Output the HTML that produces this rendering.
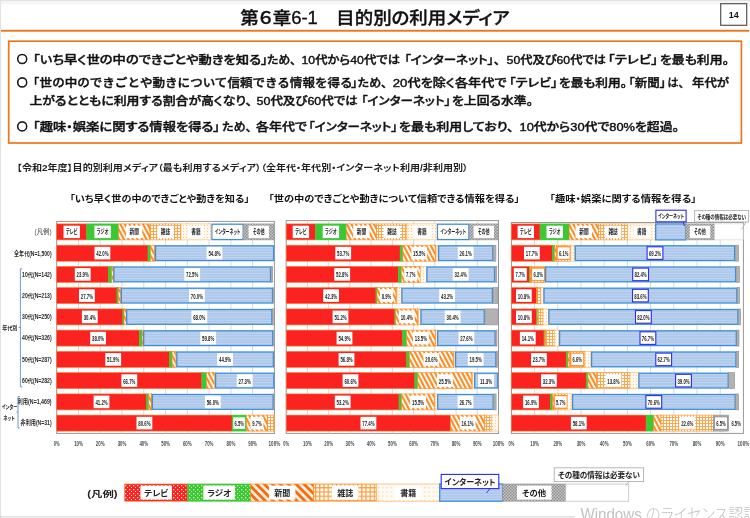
<!DOCTYPE html>
<html lang="ja"><head><meta charset="utf-8"><title>第6章6-1 目的別の利用メディア</title>
<style>
html,body{margin:0;padding:0;background:#fff;}
body{width:750px;height:518px;overflow:hidden;font-family:"Liberation Sans","Noto Sans CJK JP",sans-serif;}
svg{display:block;filter:blur(0.35px);}
text{font-family:"Liberation Sans","Noto Sans CJK JP",sans-serif;font-feature-settings:"palt" 1;font-kerning:normal;}
.np{font-feature-settings:"palt" 0;}
.c{font-family:"Noto Sans CJK JP",sans-serif;}
.b{font-weight:700}
.m{font-weight:500}
.sb{font-weight:500;stroke:#111;stroke-width:0.4px;paint-order:stroke;}
</style></head><body>
<svg width="750" height="518" viewBox="0 0 750 518">
<defs>
<pattern id="pPaper" width="4" height="4" patternUnits="userSpaceOnUse" patternTransform="rotate(-28)">
<rect width="4" height="4" fill="#fff"/><rect width="2.1" height="4" fill="#ff8a1f"/></pattern>
<pattern id="pMag" width="3" height="3" patternUnits="userSpaceOnUse">
<rect width="3" height="3" fill="#ffa03c"/><rect x="0.9" y="0.9" width="2.1" height="2.1" fill="#fff"/></pattern>
<pattern id="pBook" width="3" height="3" patternUnits="userSpaceOnUse">
<rect width="3" height="3" fill="#fff8ee"/><rect width="1" height="1" fill="#ffc98a"/></pattern>
<pattern id="pNet" width="3" height="2.6" patternUnits="userSpaceOnUse">
<rect width="3" height="2.6" fill="#adc8ea"/><rect width="3" height="0.8" fill="#c3d7f1"/></pattern>
<pattern id="pOther" width="3" height="3" patternUnits="userSpaceOnUse">
<rect width="3" height="3" fill="#c9c9c9"/><rect width="1.5" height="1.5" fill="#8c8c8c"/><rect x="1.5" y="1.5" width="1.5" height="1.5" fill="#8c8c8c"/></pattern>
<pattern id="pTVd" width="4" height="4" patternUnits="userSpaceOnUse">
<rect width="4" height="4" fill="#fb2320"/><rect x="1" y="1" width="1.3" height="1.3" fill="#ffd0c8"/><rect x="3" y="3" width="1.3" height="1.3" fill="#ffd0c8"/></pattern>
<pattern id="pRadd" width="4" height="4" patternUnits="userSpaceOnUse">
<rect width="4" height="4" fill="#3cc832"/><rect x="1" y="1" width="1.3" height="1.3" fill="#c8f0c0"/><rect x="3" y="3" width="1.3" height="1.3" fill="#c8f0c0"/></pattern>
<pattern id="pPaperL" width="5.6" height="5.6" patternUnits="userSpaceOnUse" patternTransform="rotate(-45)">
<rect width="5.6" height="5.6" fill="#fff3e6"/><rect width="2.9" height="5.6" fill="#f76b10"/></pattern>
<pattern id="pMagL" width="4.2" height="4.2" patternUnits="userSpaceOnUse">
<rect width="4.2" height="4.2" fill="#ff9a33"/><rect x="1.2" y="1.2" width="3" height="3" fill="#fff"/></pattern>
<pattern id="pBookL" width="4.2" height="4.2" patternUnits="userSpaceOnUse">
<rect width="4.2" height="4.2" fill="#fffaf3"/><rect width="1.3" height="1.3" fill="#ffd3a3"/></pattern>
</defs>
<rect width="750" height="518" fill="#fff"/>

<rect x="0" y="0" width="750" height="1.2" fill="#e2e2e2"/><rect x="0" y="1.2" width="750" height="3.2" fill="#f4f4f4"/>
<rect x="0" y="0" width="1.1" height="518" fill="#e2e2e2"/>
<rect x="0" y="516.3" width="575" height="1" fill="#d0d0d0"/>
<text x="240.3" y="23.6" font-size="17.6" class="m" stroke="#111" stroke-width="0.35" textLength="269.4" lengthAdjust="spacingAndGlyphs" fill="#111">第６章6-1　目的別の利用メディア</text>
<rect x="720.7" y="3.7" width="26" height="21.6" fill="#fff" stroke="#555" stroke-width="1.2"/>
<text x="733.7" y="18" font-size="9" class="b" text-anchor="middle" fill="#111">14</text>
<rect x="1" y="29.8" width="748" height="1.9" fill="#ea7719"/>
<rect x="8.7" y="41.2" width="732.7" height="101.8" fill="#fff" stroke="#ea7719" stroke-width="1.7"/>
<circle cx="22.2" cy="59.0" r="4.5" fill="none" stroke="#1a1a1a" stroke-width="1.5"/>
<text x="16.9" y="62.9" font-size="10.6" class="b c" fill="#1a1a1a">○</text>
<text x="33.0" y="63.6" font-size="11.4" class="sb" textLength="234.7" lengthAdjust="spacingAndGlyphs" fill="#111">「いち早く世の中のできごとや動きを知る」</text>
<text x="267.2" y="63.6" font-size="11.4" class="sb" textLength="28.8" lengthAdjust="spacingAndGlyphs" fill="#111">ため、</text>
<text x="301.5" y="63.6" font-size="11.4" class="sb" textLength="98.5" lengthAdjust="spacingAndGlyphs" fill="#111">10代から40代では</text>
<text x="404.5" y="63.6" font-size="11.4" class="sb" textLength="95.5" lengthAdjust="spacingAndGlyphs" fill="#111">「インターネット」、</text>
<text x="506.6" y="63.6" font-size="11.4" class="sb" textLength="99.4" lengthAdjust="spacingAndGlyphs" fill="#111">50代及び60代では</text>
<text x="607.8" y="63.6" font-size="11.4" class="sb" textLength="50.2" lengthAdjust="spacingAndGlyphs" fill="#111">「テレビ」</text>
<text x="660.0" y="63.6" font-size="11.4" class="sb" textLength="69.0" lengthAdjust="spacingAndGlyphs" fill="#111">を最も利用。</text>
<circle cx="22.2" cy="82.5" r="4.5" fill="none" stroke="#1a1a1a" stroke-width="1.5"/>
<text x="16.9" y="86.4" font-size="10.6" class="b c" fill="#1a1a1a">○</text>
<text x="33.0" y="87.1" font-size="11.4" class="sb" textLength="6.0" lengthAdjust="spacingAndGlyphs" fill="#111">「</text>
<text x="39.6" y="87.1" font-size="11.4" class="sb np" textLength="313.0" lengthAdjust="spacingAndGlyphs" fill="#111">世の中のできごとや動きについて信頼できる情報を得る</text>
<text x="351.2" y="87.1" font-size="11.4" class="sb" textLength="6.2" lengthAdjust="spacingAndGlyphs" fill="#111">」</text>
<text x="357.6" y="87.1" font-size="11.4" class="sb" textLength="29.4" lengthAdjust="spacingAndGlyphs" fill="#111">ため、</text>
<text x="392.8" y="87.1" font-size="11.4" class="sb" textLength="113.7" lengthAdjust="spacingAndGlyphs" fill="#111">20代を除く各年代で</text>
<text x="509.0" y="87.1" font-size="11.4" class="sb" textLength="48.6" lengthAdjust="spacingAndGlyphs" fill="#111">「テレビ」</text>
<text x="559.0" y="87.1" font-size="11.4" class="sb" textLength="68.0" lengthAdjust="spacingAndGlyphs" fill="#111">を最も利用。</text>
<text x="628.6" y="87.1" font-size="11.4" class="sb" textLength="37.4" lengthAdjust="spacingAndGlyphs" fill="#111">「新聞」</text>
<text x="667.5" y="87.1" font-size="11.4" class="sb" textLength="16.5" lengthAdjust="spacingAndGlyphs" fill="#111">は、</text>
<text x="692.0" y="87.1" font-size="11.4" class="sb" textLength="37.0" lengthAdjust="spacingAndGlyphs" fill="#111">年代が</text>
<text x="29.5" y="105.4" font-size="11.4" class="sb" textLength="222.5" lengthAdjust="spacingAndGlyphs" fill="#111">上がるとともに利用する割合が高くなり、</text>
<text x="256.5" y="105.4" font-size="11.4" class="sb" textLength="101.3" lengthAdjust="spacingAndGlyphs" fill="#111">50代及び60代では</text>
<text x="361.3" y="105.4" font-size="11.4" class="sb" textLength="89.4" lengthAdjust="spacingAndGlyphs" fill="#111">「インターネット」</text>
<text x="452.0" y="105.4" font-size="11.4" class="sb" textLength="81.0" lengthAdjust="spacingAndGlyphs" fill="#111">を上回る水準。</text>
<circle cx="22.2" cy="126.4" r="4.5" fill="none" stroke="#1a1a1a" stroke-width="1.5"/>
<text x="16.9" y="130.3" font-size="10.6" class="b c" fill="#1a1a1a">○</text>
<text x="33.0" y="131.0" font-size="11.4" class="sb" textLength="187.0" lengthAdjust="spacingAndGlyphs" fill="#111">「趣味・娯楽に関する情報を得る」</text>
<text x="222.2" y="131.0" font-size="11.4" class="sb" textLength="29.3" lengthAdjust="spacingAndGlyphs" fill="#111">ため、</text>
<text x="256.0" y="131.0" font-size="11.4" class="sb" textLength="51.0" lengthAdjust="spacingAndGlyphs" fill="#111">各年代で</text>
<text x="308.5" y="131.0" font-size="11.4" class="sb" textLength="89.0" lengthAdjust="spacingAndGlyphs" fill="#111">「インターネット」</text>
<text x="399.0" y="131.0" font-size="11.4" class="sb" textLength="114.5" lengthAdjust="spacingAndGlyphs" fill="#111">を最も利用しており、</text>
<text x="519.5" y="131.0" font-size="11.4" class="sb" textLength="159.5" lengthAdjust="spacingAndGlyphs" fill="#111">10代から30代で80%を超過。</text>
<text x="16.9" y="170.6" font-size="8.8" class="b" textLength="451.1" lengthAdjust="spacingAndGlyphs" fill="#222">【令和2年度】目的別利用メディア（最も利用するメディア）（全年代・年代別・インターネット利用/非利用別）</text>
<text x="69.8" y="201.9" font-size="9.4" class="b" textLength="179.6" lengthAdjust="spacingAndGlyphs" fill="#111">「いち早く世の中のできごとや動きを知る」</text>
<text x="268.6" y="201.9" font-size="9.4" class="b" textLength="251.0" lengthAdjust="spacingAndGlyphs" fill="#111">「世の中のできごとや動きについて信頼できる情報を得る」</text>
<text x="549.8" y="201.9" font-size="9.4" class="b" textLength="146.6" lengthAdjust="spacingAndGlyphs" fill="#111">「趣味・娯楽に関する情報を得る」</text>
<rect x="56.7" y="221.4" width="217.7" height="212.0" fill="#fff" stroke="#969696" stroke-width="1"/>
<line x1="78.5" y1="221.4" x2="78.5" y2="433.4" stroke="#d4d4d4" stroke-width="0.9"/>
<line x1="100.2" y1="221.4" x2="100.2" y2="433.4" stroke="#d4d4d4" stroke-width="0.9"/>
<line x1="122.0" y1="221.4" x2="122.0" y2="433.4" stroke="#d4d4d4" stroke-width="0.9"/>
<line x1="143.8" y1="221.4" x2="143.8" y2="433.4" stroke="#d4d4d4" stroke-width="0.9"/>
<line x1="165.6" y1="221.4" x2="165.6" y2="433.4" stroke="#d4d4d4" stroke-width="0.9"/>
<line x1="187.3" y1="221.4" x2="187.3" y2="433.4" stroke="#d4d4d4" stroke-width="0.9"/>
<line x1="209.1" y1="221.4" x2="209.1" y2="433.4" stroke="#d4d4d4" stroke-width="0.9"/>
<line x1="230.9" y1="221.4" x2="230.9" y2="433.4" stroke="#d4d4d4" stroke-width="0.9"/>
<line x1="252.6" y1="221.4" x2="252.6" y2="433.4" stroke="#d4d4d4" stroke-width="0.9"/>
<rect x="56.7" y="223.9" width="30.0" height="16.0" fill="#fb2320" stroke="#ff7a2a" stroke-width="0.6"/>
<rect x="63.5" y="225.7" width="16.4" height="12.4" fill="#fff"/>
<text x="71.7" y="234.3" font-size="6.6" class="b" text-anchor="middle" fill="#222" textLength="11.6" lengthAdjust="spacingAndGlyphs">テレビ</text>
<rect x="86.7" y="223.9" width="31.8" height="16.0" fill="#3cc832" stroke="#3cc832" stroke-width="0.6"/>
<rect x="94.4" y="225.7" width="16.4" height="12.4" fill="#fff"/>
<text x="102.6" y="234.3" font-size="6.6" class="b" text-anchor="middle" fill="#222" textLength="11.6" lengthAdjust="spacingAndGlyphs">ラジオ</text>
<rect x="118.5" y="223.9" width="31.5" height="16.0" fill="url(#pPaper)" stroke="#ff8a1f" stroke-width="0.6"/>
<rect x="126.0" y="225.7" width="16.4" height="12.4" fill="#fff"/>
<text x="134.2" y="234.3" font-size="6.6" class="b" text-anchor="middle" fill="#222" textLength="9.4" lengthAdjust="spacingAndGlyphs">新聞</text>
<rect x="150.0" y="223.9" width="31.0" height="16.0" fill="url(#pMag)" stroke="#ff8a1f" stroke-width="0.6"/>
<rect x="157.3" y="225.7" width="16.4" height="12.4" fill="#fff"/>
<text x="165.5" y="234.3" font-size="6.6" class="b" text-anchor="middle" fill="#222" textLength="9.4" lengthAdjust="spacingAndGlyphs">雑誌</text>
<rect x="181.0" y="223.9" width="30.0" height="16.0" fill="url(#pBook)" stroke="#ffb566" stroke-width="0.6"/>
<rect x="187.8" y="225.7" width="16.4" height="12.4" fill="#fff"/>
<text x="196.0" y="234.3" font-size="6.6" class="b" text-anchor="middle" fill="#222" textLength="9.4" lengthAdjust="spacingAndGlyphs">書籍</text>
<rect x="212.0" y="224.2" width="31.0" height="15.4" fill="#fff" stroke="#3f8fd8" stroke-width="1.3"/>
<rect x="212.7" y="225.7" width="29.6" height="12.4" fill="#fff"/>
<text x="227.5" y="234.3" font-size="6.6" class="b" text-anchor="middle" fill="#222" textLength="25.5" lengthAdjust="spacingAndGlyphs">インターネット</text>
<rect x="243.6" y="223.9" width="30.4" height="16.0" fill="url(#pOther)" stroke="#999" stroke-width="0.6"/>
<rect x="248.6" y="225.7" width="20.4" height="12.4" fill="#fff"/>
<text x="258.8" y="234.3" font-size="6.6" class="b" text-anchor="middle" fill="#222" textLength="11.6" lengthAdjust="spacingAndGlyphs">その他</text>
<rect x="56.7" y="245.2" width="91.4" height="16.0" fill="#fb2320" stroke="#ff7a2a" stroke-width="0.6"/>
<rect x="94.5" y="246.8" width="15.8" height="12.6" fill="#fff"/>
<text x="102.4" y="256.0" font-size="8" class="b" text-anchor="middle" fill="#222" textLength="12.2" lengthAdjust="spacingAndGlyphs">42.0%</text>
<rect x="148.1" y="245.2" width="2.4" height="16.0" fill="#3cc832" stroke="#3cc832" stroke-width="0.6"/>
<rect x="150.5" y="245.2" width="4.1" height="16.0" fill="url(#pPaper)" stroke="#ff8a1f" stroke-width="0.6"/>
<rect x="154.7" y="245.2" width="0.2" height="16.0" fill="url(#pMag)" stroke="#ff8a1f" stroke-width="0.6"/>
<rect x="155.5" y="245.8" width="118.1" height="14.8" fill="url(#pNet)" stroke="#3f8fd8" stroke-width="1.3"/>
<rect x="206.6" y="246.8" width="15.8" height="12.6" fill="#fff"/>
<text x="214.5" y="256.0" font-size="8" class="b" text-anchor="middle" fill="#222" textLength="12.2" lengthAdjust="spacingAndGlyphs">54.8%</text>
<rect x="56.7" y="266.4" width="52.0" height="16.0" fill="#fb2320" stroke="#ff7a2a" stroke-width="0.6"/>
<rect x="74.8" y="268.1" width="15.8" height="12.6" fill="#fff"/>
<text x="82.7" y="277.3" font-size="8" class="b" text-anchor="middle" fill="#222" textLength="12.2" lengthAdjust="spacingAndGlyphs">23.9%</text>
<rect x="108.7" y="266.4" width="3.0" height="16.0" fill="#3cc832" stroke="#3cc832" stroke-width="0.6"/>
<rect x="111.8" y="266.4" width="1.5" height="16.0" fill="url(#pPaper)" stroke="#ff8a1f" stroke-width="0.6"/>
<rect x="113.9" y="267.0" width="156.6" height="14.8" fill="url(#pNet)" stroke="#3f8fd8" stroke-width="1.3"/>
<rect x="184.3" y="268.1" width="15.8" height="12.6" fill="#fff"/>
<text x="192.2" y="277.3" font-size="8" class="b" text-anchor="middle" fill="#222" textLength="12.2" lengthAdjust="spacingAndGlyphs">72.5%</text>
<rect x="271.1" y="266.4" width="1.5" height="16.0" fill="#b2b2b2" stroke="#8e8e8e" stroke-width="0.6"/>
<rect x="56.7" y="287.6" width="60.3" height="16.0" fill="#fb2320" stroke="#ff7a2a" stroke-width="0.6"/>
<rect x="79.0" y="289.3" width="15.8" height="12.6" fill="#fff"/>
<text x="86.9" y="298.5" font-size="8" class="b" text-anchor="middle" fill="#222" textLength="12.2" lengthAdjust="spacingAndGlyphs">27.7%</text>
<rect x="117.0" y="287.6" width="1.3" height="16.0" fill="#3cc832" stroke="#3cc832" stroke-width="0.6"/>
<rect x="118.3" y="287.6" width="2.4" height="16.0" fill="url(#pPaper)" stroke="#ff8a1f" stroke-width="0.6"/>
<rect x="121.3" y="288.2" width="151.2" height="14.8" fill="url(#pNet)" stroke="#3f8fd8" stroke-width="1.3"/>
<rect x="189.0" y="289.3" width="15.8" height="12.6" fill="#fff"/>
<text x="196.9" y="298.5" font-size="8" class="b" text-anchor="middle" fill="#222" textLength="12.2" lengthAdjust="spacingAndGlyphs">70.0%</text>
<rect x="273.1" y="287.6" width="0.4" height="16.0" fill="#b2b2b2" stroke="#8e8e8e" stroke-width="0.6"/>
<rect x="56.7" y="308.9" width="66.2" height="16.0" fill="#fb2320" stroke="#ff7a2a" stroke-width="0.6"/>
<rect x="81.9" y="310.6" width="15.8" height="12.6" fill="#fff"/>
<text x="89.8" y="319.8" font-size="8" class="b" text-anchor="middle" fill="#222" textLength="12.2" lengthAdjust="spacingAndGlyphs">30.4%</text>
<rect x="122.9" y="308.9" width="1.1" height="16.0" fill="#3cc832" stroke="#3cc832" stroke-width="0.6"/>
<rect x="124.0" y="308.9" width="2.2" height="16.0" fill="url(#pPaper)" stroke="#ff8a1f" stroke-width="0.6"/>
<rect x="126.7" y="309.5" width="145.1" height="14.8" fill="url(#pNet)" stroke="#3f8fd8" stroke-width="1.3"/>
<rect x="191.4" y="310.6" width="15.8" height="12.6" fill="#fff"/>
<text x="199.3" y="319.8" font-size="8" class="b" text-anchor="middle" fill="#222" textLength="12.2" lengthAdjust="spacingAndGlyphs">68.0%</text>
<rect x="272.4" y="308.9" width="2.0" height="16.0" fill="#b2b2b2" stroke="#8e8e8e" stroke-width="0.6"/>
<rect x="56.7" y="330.1" width="82.7" height="16.0" fill="#fb2320" stroke="#ff7a2a" stroke-width="0.6"/>
<rect x="90.2" y="331.8" width="15.8" height="12.6" fill="#fff"/>
<text x="98.1" y="341.0" font-size="8" class="b" text-anchor="middle" fill="#222" textLength="12.2" lengthAdjust="spacingAndGlyphs">38.0%</text>
<rect x="139.4" y="330.1" width="2.6" height="16.0" fill="#3cc832" stroke="#3cc832" stroke-width="0.6"/>
<rect x="142.0" y="330.1" width="1.1" height="16.0" fill="url(#pPaper)" stroke="#ff8a1f" stroke-width="0.6"/>
<rect x="143.7" y="330.8" width="129.0" height="14.8" fill="url(#pNet)" stroke="#3f8fd8" stroke-width="1.3"/>
<rect x="200.3" y="331.8" width="15.8" height="12.6" fill="#fff"/>
<text x="208.2" y="341.0" font-size="8" class="b" text-anchor="middle" fill="#222" textLength="12.2" lengthAdjust="spacingAndGlyphs">59.8%</text>
<rect x="273.3" y="330.1" width="0.4" height="16.0" fill="#b2b2b2" stroke="#8e8e8e" stroke-width="0.6"/>
<rect x="56.7" y="351.4" width="113.0" height="16.0" fill="#fb2320" stroke="#ff7a2a" stroke-width="0.6"/>
<rect x="105.3" y="353.1" width="15.8" height="12.6" fill="#fff"/>
<text x="113.2" y="362.3" font-size="8" class="b" text-anchor="middle" fill="#222" textLength="12.2" lengthAdjust="spacingAndGlyphs">51.9%</text>
<rect x="169.7" y="351.4" width="2.4" height="16.0" fill="#3cc832" stroke="#3cc832" stroke-width="0.6"/>
<rect x="172.1" y="351.4" width="3.9" height="16.0" fill="url(#pPaper)" stroke="#ff8a1f" stroke-width="0.6"/>
<rect x="176.0" y="351.4" width="0.2" height="16.0" fill="url(#pBook)" stroke="#ffb566" stroke-width="0.6"/>
<rect x="176.8" y="352.0" width="96.5" height="14.8" fill="url(#pNet)" stroke="#3f8fd8" stroke-width="1.3"/>
<rect x="217.2" y="353.1" width="15.8" height="12.6" fill="#fff"/>
<text x="225.1" y="362.3" font-size="8" class="b" text-anchor="middle" fill="#222" textLength="12.2" lengthAdjust="spacingAndGlyphs">44.9%</text>
<rect x="274.0" y="351.4" width="0.2" height="16.0" fill="#b2b2b2" stroke="#8e8e8e" stroke-width="0.6"/>
<rect x="56.7" y="372.6" width="145.2" height="16.0" fill="#fb2320" stroke="#ff7a2a" stroke-width="0.6"/>
<rect x="121.4" y="374.3" width="15.8" height="12.6" fill="#fff"/>
<text x="129.3" y="383.5" font-size="8" class="b" text-anchor="middle" fill="#222" textLength="12.2" lengthAdjust="spacingAndGlyphs">66.7%</text>
<rect x="201.9" y="372.6" width="4.6" height="16.0" fill="#3cc832" stroke="#3cc832" stroke-width="0.6"/>
<rect x="206.5" y="372.6" width="8.3" height="16.0" fill="url(#pPaper)" stroke="#ff8a1f" stroke-width="0.6"/>
<rect x="214.8" y="372.6" width="0.2" height="16.0" fill="url(#pBook)" stroke="#ffb566" stroke-width="0.6"/>
<rect x="215.6" y="373.2" width="58.2" height="14.8" fill="url(#pNet)" stroke="#3f8fd8" stroke-width="1.3"/>
<rect x="236.8" y="374.3" width="15.8" height="12.6" fill="#fff"/>
<text x="244.7" y="383.5" font-size="8" class="b" text-anchor="middle" fill="#222" textLength="12.2" lengthAdjust="spacingAndGlyphs">27.3%</text>
<rect x="56.7" y="393.9" width="89.7" height="16.0" fill="#fb2320" stroke="#ff7a2a" stroke-width="0.6"/>
<rect x="93.6" y="395.6" width="15.8" height="12.6" fill="#fff"/>
<text x="101.5" y="404.8" font-size="8" class="b" text-anchor="middle" fill="#222" textLength="12.2" lengthAdjust="spacingAndGlyphs">41.2%</text>
<rect x="146.4" y="393.9" width="2.2" height="16.0" fill="#3cc832" stroke="#3cc832" stroke-width="0.6"/>
<rect x="148.6" y="393.9" width="3.0" height="16.0" fill="url(#pPaper)" stroke="#ff8a1f" stroke-width="0.6"/>
<rect x="151.6" y="393.9" width="0.2" height="16.0" fill="url(#pMag)" stroke="#ff8a1f" stroke-width="0.6"/>
<rect x="152.4" y="394.5" width="120.7" height="14.8" fill="url(#pNet)" stroke="#3f8fd8" stroke-width="1.3"/>
<rect x="204.9" y="395.6" width="15.8" height="12.6" fill="#fff"/>
<text x="212.8" y="404.8" font-size="8" class="b" text-anchor="middle" fill="#222" textLength="12.2" lengthAdjust="spacingAndGlyphs">56.0%</text>
<rect x="273.7" y="393.9" width="0.2" height="16.0" fill="#b2b2b2" stroke="#8e8e8e" stroke-width="0.6"/>
<rect x="56.7" y="415.1" width="175.5" height="16.0" fill="#fb2320" stroke="#ff7a2a" stroke-width="0.6"/>
<rect x="136.5" y="416.8" width="15.8" height="12.6" fill="#fff"/>
<text x="144.4" y="426.0" font-size="8" class="b" text-anchor="middle" fill="#222" textLength="12.2" lengthAdjust="spacingAndGlyphs">80.6%</text>
<rect x="232.2" y="415.1" width="14.2" height="16.0" fill="#3cc832" stroke="#3cc832" stroke-width="0.6"/>
<rect x="232.7" y="416.8" width="13.0" height="12.6" fill="#fff" stroke="#3cc832" stroke-width="1.1"/>
<text x="239.2" y="426.0" font-size="8" class="b" text-anchor="middle" fill="#222" textLength="9.4" lengthAdjust="spacingAndGlyphs">6.5%</text>
<rect x="246.3" y="415.1" width="21.1" height="16.0" fill="url(#pPaper)" stroke="#ff8a1f" stroke-width="0.6"/>
<rect x="250.4" y="416.8" width="13.0" height="12.6" fill="#fff"/>
<text x="256.9" y="426.0" font-size="8" class="b" text-anchor="middle" fill="#222" textLength="9.4" lengthAdjust="spacingAndGlyphs">9.7%</text>
<rect x="267.4" y="415.1" width="7.0" height="16.0" fill="url(#pMag)" stroke="#ff8a1f" stroke-width="0.6"/>
<text x="56.7" y="445.6" font-size="7.2" class="b" text-anchor="middle" fill="#4a4a4a" textLength="5.8" lengthAdjust="spacingAndGlyphs">0%</text>
<text x="78.5" y="445.6" font-size="7.2" class="b" text-anchor="middle" fill="#4a4a4a" textLength="8.7" lengthAdjust="spacingAndGlyphs">10%</text>
<text x="100.2" y="445.6" font-size="7.2" class="b" text-anchor="middle" fill="#4a4a4a" textLength="8.7" lengthAdjust="spacingAndGlyphs">20%</text>
<text x="122.0" y="445.6" font-size="7.2" class="b" text-anchor="middle" fill="#4a4a4a" textLength="8.7" lengthAdjust="spacingAndGlyphs">30%</text>
<text x="143.8" y="445.6" font-size="7.2" class="b" text-anchor="middle" fill="#4a4a4a" textLength="8.7" lengthAdjust="spacingAndGlyphs">40%</text>
<text x="165.6" y="445.6" font-size="7.2" class="b" text-anchor="middle" fill="#4a4a4a" textLength="8.7" lengthAdjust="spacingAndGlyphs">50%</text>
<text x="187.3" y="445.6" font-size="7.2" class="b" text-anchor="middle" fill="#4a4a4a" textLength="8.7" lengthAdjust="spacingAndGlyphs">60%</text>
<text x="209.1" y="445.6" font-size="7.2" class="b" text-anchor="middle" fill="#4a4a4a" textLength="8.7" lengthAdjust="spacingAndGlyphs">70%</text>
<text x="230.9" y="445.6" font-size="7.2" class="b" text-anchor="middle" fill="#4a4a4a" textLength="8.7" lengthAdjust="spacingAndGlyphs">80%</text>
<text x="252.6" y="445.6" font-size="7.2" class="b" text-anchor="middle" fill="#4a4a4a" textLength="8.7" lengthAdjust="spacingAndGlyphs">90%</text>
<text x="274.4" y="445.6" font-size="7.2" class="b" text-anchor="middle" fill="#4a4a4a" textLength="11.6" lengthAdjust="spacingAndGlyphs">100%</text>
<text x="34.6" y="234.2" font-size="6.4" class="m" fill="#555" textLength="17" lengthAdjust="spacingAndGlyphs">(凡例)</text>
<text x="14.1" y="255.5" font-size="6.4" class="b" fill="#2a2a2a" textLength="37.5" lengthAdjust="spacingAndGlyphs">全年代(N=1,500)</text>
<text x="22.1" y="276.7" font-size="6.4" class="b" fill="#2a2a2a" textLength="29.5" lengthAdjust="spacingAndGlyphs">10代(N=142)</text>
<text x="22.1" y="297.9" font-size="6.4" class="b" fill="#2a2a2a" textLength="29.5" lengthAdjust="spacingAndGlyphs">20代(N=213)</text>
<text x="22.1" y="319.2" font-size="6.4" class="b" fill="#2a2a2a" textLength="29.5" lengthAdjust="spacingAndGlyphs">30代(N=250)</text>
<text x="22.1" y="340.4" font-size="6.4" class="b" fill="#2a2a2a" textLength="29.5" lengthAdjust="spacingAndGlyphs">40代(N=326)</text>
<text x="22.1" y="361.7" font-size="6.4" class="b" fill="#2a2a2a" textLength="29.5" lengthAdjust="spacingAndGlyphs">50代(N=287)</text>
<text x="22.1" y="382.9" font-size="6.4" class="b" fill="#2a2a2a" textLength="29.5" lengthAdjust="spacingAndGlyphs">60代(N=282)</text>
<text x="17.6" y="404.2" font-size="6.4" class="b" fill="#2a2a2a" textLength="34" lengthAdjust="spacingAndGlyphs">利用(N=1,469)</text>
<text x="20.6" y="425.4" font-size="6.4" class="b" fill="#2a2a2a" textLength="31" lengthAdjust="spacingAndGlyphs">非利用(N=31)</text>
<path d="M22.3 268.8 H20.4 V386.8 H22.3 M20.4 327.5 H18.6" fill="none" stroke="#4f81c7" stroke-width="0.8"/>
<text x="2.2" y="330.2" font-size="5.8" class="b" fill="#222" textLength="15" lengthAdjust="spacingAndGlyphs">年代別</text>
<path d="M19.8 396.5 H18 V428 H19.8 M18 412 H16.4" fill="none" stroke="#4f81c7" stroke-width="0.8"/>
<text x="1.8" y="409.4" font-size="5.8" class="b" fill="#222" textLength="15.5" lengthAdjust="spacingAndGlyphs">インター</text>
<text x="3.4" y="420.4" font-size="5.8" class="b" fill="#222" textLength="11.5" lengthAdjust="spacingAndGlyphs">ネット</text>
<rect x="286.2" y="220.6" width="212.3" height="212.8" fill="#fff" stroke="#969696" stroke-width="1"/>
<line x1="307.4" y1="220.6" x2="307.4" y2="433.4" stroke="#d4d4d4" stroke-width="0.9"/>
<line x1="328.7" y1="220.6" x2="328.7" y2="433.4" stroke="#d4d4d4" stroke-width="0.9"/>
<line x1="349.9" y1="220.6" x2="349.9" y2="433.4" stroke="#d4d4d4" stroke-width="0.9"/>
<line x1="371.1" y1="220.6" x2="371.1" y2="433.4" stroke="#d4d4d4" stroke-width="0.9"/>
<line x1="392.4" y1="220.6" x2="392.4" y2="433.4" stroke="#d4d4d4" stroke-width="0.9"/>
<line x1="413.6" y1="220.6" x2="413.6" y2="433.4" stroke="#d4d4d4" stroke-width="0.9"/>
<line x1="434.8" y1="220.6" x2="434.8" y2="433.4" stroke="#d4d4d4" stroke-width="0.9"/>
<line x1="456.0" y1="220.6" x2="456.0" y2="433.4" stroke="#d4d4d4" stroke-width="0.9"/>
<line x1="477.3" y1="220.6" x2="477.3" y2="433.4" stroke="#d4d4d4" stroke-width="0.9"/>
<rect x="286.2" y="223.9" width="29.4" height="16.0" fill="#fb2320" stroke="#ff7a2a" stroke-width="0.6"/>
<rect x="292.7" y="225.7" width="16.4" height="12.4" fill="#fff"/>
<text x="300.9" y="234.3" font-size="6.6" class="b" text-anchor="middle" fill="#222" textLength="11.6" lengthAdjust="spacingAndGlyphs">テレビ</text>
<rect x="315.6" y="223.9" width="30.6" height="16.0" fill="#3cc832" stroke="#3cc832" stroke-width="0.6"/>
<rect x="322.7" y="225.7" width="16.4" height="12.4" fill="#fff"/>
<text x="330.9" y="234.3" font-size="6.6" class="b" text-anchor="middle" fill="#222" textLength="11.6" lengthAdjust="spacingAndGlyphs">ラジオ</text>
<rect x="346.2" y="223.9" width="30.5" height="16.0" fill="url(#pPaper)" stroke="#ff8a1f" stroke-width="0.6"/>
<rect x="353.2" y="225.7" width="16.4" height="12.4" fill="#fff"/>
<text x="361.4" y="234.3" font-size="6.6" class="b" text-anchor="middle" fill="#222" textLength="9.4" lengthAdjust="spacingAndGlyphs">新聞</text>
<rect x="376.7" y="223.9" width="30.3" height="16.0" fill="url(#pMag)" stroke="#ff8a1f" stroke-width="0.6"/>
<rect x="383.7" y="225.7" width="16.4" height="12.4" fill="#fff"/>
<text x="391.9" y="234.3" font-size="6.6" class="b" text-anchor="middle" fill="#222" textLength="9.4" lengthAdjust="spacingAndGlyphs">雑誌</text>
<rect x="407.0" y="223.9" width="30.0" height="16.0" fill="url(#pBook)" stroke="#ffb566" stroke-width="0.6"/>
<rect x="413.8" y="225.7" width="16.4" height="12.4" fill="#fff"/>
<text x="422.0" y="234.3" font-size="6.6" class="b" text-anchor="middle" fill="#222" textLength="9.4" lengthAdjust="spacingAndGlyphs">書籍</text>
<rect x="437.6" y="224.2" width="31.2" height="15.4" fill="#fff" stroke="#3f8fd8" stroke-width="1.3"/>
<rect x="438.3" y="225.7" width="29.8" height="12.4" fill="#fff"/>
<text x="453.2" y="234.3" font-size="6.6" class="b" text-anchor="middle" fill="#222" textLength="25.5" lengthAdjust="spacingAndGlyphs">インターネット</text>
<rect x="469.4" y="223.9" width="28.8" height="16.0" fill="url(#pOther)" stroke="#999" stroke-width="0.6"/>
<rect x="473.6" y="225.7" width="20.4" height="12.4" fill="#fff"/>
<text x="483.8" y="234.3" font-size="6.6" class="b" text-anchor="middle" fill="#222" textLength="11.6" lengthAdjust="spacingAndGlyphs">その他</text>
<rect x="286.2" y="245.2" width="114.0" height="16.0" fill="#fb2320" stroke="#ff7a2a" stroke-width="0.6"/>
<rect x="335.3" y="246.8" width="15.8" height="12.6" fill="#fff"/>
<text x="343.2" y="256.0" font-size="8" class="b" text-anchor="middle" fill="#222" textLength="12.2" lengthAdjust="spacingAndGlyphs">53.7%</text>
<rect x="400.2" y="245.2" width="2.5" height="16.0" fill="#3cc832" stroke="#3cc832" stroke-width="0.6"/>
<rect x="402.8" y="245.2" width="32.9" height="16.0" fill="url(#pPaper)" stroke="#ff8a1f" stroke-width="0.6"/>
<rect x="411.3" y="246.8" width="15.8" height="12.6" fill="#fff"/>
<text x="419.2" y="256.0" font-size="8" class="b" text-anchor="middle" fill="#222" textLength="12.2" lengthAdjust="spacingAndGlyphs">15.5%</text>
<rect x="435.7" y="245.2" width="0.4" height="16.0" fill="url(#pMag)" stroke="#ff8a1f" stroke-width="0.6"/>
<rect x="436.1" y="245.2" width="1.9" height="16.0" fill="url(#pBook)" stroke="#ffb566" stroke-width="0.6"/>
<rect x="438.6" y="245.8" width="54.2" height="14.8" fill="url(#pNet)" stroke="#3f8fd8" stroke-width="1.3"/>
<rect x="457.8" y="246.8" width="15.8" height="12.6" fill="#fff"/>
<text x="465.7" y="256.0" font-size="8" class="b" text-anchor="middle" fill="#222" textLength="12.2" lengthAdjust="spacingAndGlyphs">26.1%</text>
<rect x="493.4" y="245.2" width="2.5" height="16.0" fill="#b2b2b2" stroke="#8e8e8e" stroke-width="0.6"/>
<rect x="286.2" y="266.4" width="112.1" height="16.0" fill="#fb2320" stroke="#ff7a2a" stroke-width="0.6"/>
<rect x="334.3" y="268.1" width="15.8" height="12.6" fill="#fff"/>
<text x="342.2" y="277.3" font-size="8" class="b" text-anchor="middle" fill="#222" textLength="12.2" lengthAdjust="spacingAndGlyphs">52.8%</text>
<rect x="398.3" y="266.4" width="3.0" height="16.0" fill="#3cc832" stroke="#3cc832" stroke-width="0.6"/>
<rect x="401.3" y="266.4" width="19.1" height="16.0" fill="url(#pPaper)" stroke="#ff8a1f" stroke-width="0.6"/>
<rect x="404.3" y="268.1" width="13.0" height="12.6" fill="#fff"/>
<text x="410.8" y="277.3" font-size="8" class="b" text-anchor="middle" fill="#222" textLength="9.4" lengthAdjust="spacingAndGlyphs">7.7%</text>
<rect x="420.4" y="266.4" width="5.9" height="16.0" fill="url(#pBook)" stroke="#ffb566" stroke-width="0.6"/>
<rect x="426.9" y="267.0" width="67.6" height="14.8" fill="url(#pNet)" stroke="#3f8fd8" stroke-width="1.3"/>
<rect x="452.8" y="268.1" width="15.8" height="12.6" fill="#fff"/>
<text x="460.7" y="277.3" font-size="8" class="b" text-anchor="middle" fill="#222" textLength="12.2" lengthAdjust="spacingAndGlyphs">32.4%</text>
<rect x="495.1" y="266.4" width="1.7" height="16.0" fill="#b2b2b2" stroke="#8e8e8e" stroke-width="0.6"/>
<rect x="286.2" y="287.6" width="89.8" height="16.0" fill="#fb2320" stroke="#ff7a2a" stroke-width="0.6"/>
<rect x="323.2" y="289.3" width="15.8" height="12.6" fill="#fff"/>
<text x="331.1" y="298.5" font-size="8" class="b" text-anchor="middle" fill="#222" textLength="12.2" lengthAdjust="spacingAndGlyphs">42.3%</text>
<rect x="376.0" y="287.6" width="1.1" height="16.0" fill="#3cc832" stroke="#3cc832" stroke-width="0.6"/>
<rect x="377.1" y="287.6" width="18.9" height="16.0" fill="url(#pPaper)" stroke="#ff8a1f" stroke-width="0.6"/>
<rect x="380.0" y="289.3" width="13.0" height="12.6" fill="#fff"/>
<text x="386.5" y="298.5" font-size="8" class="b" text-anchor="middle" fill="#222" textLength="9.4" lengthAdjust="spacingAndGlyphs">8.9%</text>
<rect x="396.0" y="287.6" width="1.1" height="16.0" fill="url(#pMag)" stroke="#ff8a1f" stroke-width="0.6"/>
<rect x="397.0" y="287.6" width="4.2" height="16.0" fill="url(#pBook)" stroke="#ffb566" stroke-width="0.6"/>
<rect x="401.9" y="288.2" width="90.5" height="14.8" fill="url(#pNet)" stroke="#3f8fd8" stroke-width="1.3"/>
<rect x="439.2" y="289.3" width="15.8" height="12.6" fill="#fff"/>
<text x="447.1" y="298.5" font-size="8" class="b" text-anchor="middle" fill="#222" textLength="12.2" lengthAdjust="spacingAndGlyphs">43.2%</text>
<rect x="493.0" y="287.6" width="4.7" height="16.0" fill="#b2b2b2" stroke="#8e8e8e" stroke-width="0.6"/>
<rect x="286.2" y="308.9" width="108.7" height="16.0" fill="#fb2320" stroke="#ff7a2a" stroke-width="0.6"/>
<rect x="332.6" y="310.6" width="15.8" height="12.6" fill="#fff"/>
<text x="340.5" y="319.8" font-size="8" class="b" text-anchor="middle" fill="#222" textLength="12.2" lengthAdjust="spacingAndGlyphs">51.2%</text>
<rect x="394.9" y="308.9" width="0.8" height="16.0" fill="#3cc832" stroke="#3cc832" stroke-width="0.6"/>
<rect x="395.7" y="308.9" width="22.1" height="16.0" fill="url(#pPaper)" stroke="#ff8a1f" stroke-width="0.6"/>
<rect x="398.9" y="310.6" width="15.8" height="12.6" fill="#fff"/>
<text x="406.8" y="319.8" font-size="8" class="b" text-anchor="middle" fill="#222" textLength="12.2" lengthAdjust="spacingAndGlyphs">10.4%</text>
<rect x="417.8" y="308.9" width="0.8" height="16.0" fill="url(#pMag)" stroke="#ff8a1f" stroke-width="0.6"/>
<rect x="418.7" y="308.9" width="1.7" height="16.0" fill="url(#pBook)" stroke="#ffb566" stroke-width="0.6"/>
<rect x="421.0" y="309.5" width="63.3" height="14.8" fill="url(#pNet)" stroke="#3f8fd8" stroke-width="1.3"/>
<rect x="444.7" y="310.6" width="15.8" height="12.6" fill="#fff"/>
<text x="452.6" y="319.8" font-size="8" class="b" text-anchor="middle" fill="#222" textLength="12.2" lengthAdjust="spacingAndGlyphs">30.4%</text>
<rect x="484.9" y="308.9" width="12.7" height="16.0" fill="#b2b2b2" stroke="#8e8e8e" stroke-width="0.6"/>
<rect x="286.2" y="330.1" width="116.6" height="16.0" fill="#fb2320" stroke="#ff7a2a" stroke-width="0.6"/>
<rect x="336.6" y="331.8" width="15.8" height="12.6" fill="#fff"/>
<text x="344.5" y="341.0" font-size="8" class="b" text-anchor="middle" fill="#222" textLength="12.2" lengthAdjust="spacingAndGlyphs">54.9%</text>
<rect x="402.8" y="330.1" width="3.8" height="16.0" fill="#3cc832" stroke="#3cc832" stroke-width="0.6"/>
<rect x="406.6" y="330.1" width="28.7" height="16.0" fill="url(#pPaper)" stroke="#ff8a1f" stroke-width="0.6"/>
<rect x="413.0" y="331.8" width="15.8" height="12.6" fill="#fff"/>
<text x="420.9" y="341.0" font-size="8" class="b" text-anchor="middle" fill="#222" textLength="12.2" lengthAdjust="spacingAndGlyphs">13.5%</text>
<rect x="435.2" y="330.1" width="0.6" height="16.0" fill="url(#pMag)" stroke="#ff8a1f" stroke-width="0.6"/>
<rect x="435.9" y="330.1" width="1.3" height="16.0" fill="url(#pBook)" stroke="#ffb566" stroke-width="0.6"/>
<rect x="437.7" y="330.8" width="57.4" height="14.8" fill="url(#pNet)" stroke="#3f8fd8" stroke-width="1.3"/>
<rect x="458.5" y="331.8" width="15.8" height="12.6" fill="#fff"/>
<text x="466.4" y="341.0" font-size="8" class="b" text-anchor="middle" fill="#222" textLength="12.2" lengthAdjust="spacingAndGlyphs">27.6%</text>
<rect x="495.7" y="330.1" width="1.3" height="16.0" fill="#b2b2b2" stroke="#8e8e8e" stroke-width="0.6"/>
<rect x="286.2" y="351.4" width="120.6" height="16.0" fill="#fb2320" stroke="#ff7a2a" stroke-width="0.6"/>
<rect x="338.6" y="353.1" width="15.8" height="12.6" fill="#fff"/>
<text x="346.5" y="362.3" font-size="8" class="b" text-anchor="middle" fill="#222" textLength="12.2" lengthAdjust="spacingAndGlyphs">56.8%</text>
<rect x="406.8" y="351.4" width="2.8" height="16.0" fill="#3cc832" stroke="#3cc832" stroke-width="0.6"/>
<rect x="409.5" y="351.4" width="43.7" height="16.0" fill="url(#pPaper)" stroke="#ff8a1f" stroke-width="0.6"/>
<rect x="423.5" y="353.1" width="15.8" height="12.6" fill="#fff"/>
<text x="431.4" y="362.3" font-size="8" class="b" text-anchor="middle" fill="#222" textLength="12.2" lengthAdjust="spacingAndGlyphs">20.6%</text>
<rect x="453.3" y="351.4" width="0.6" height="16.0" fill="url(#pMag)" stroke="#ff8a1f" stroke-width="0.6"/>
<rect x="453.9" y="351.4" width="1.1" height="16.0" fill="url(#pBook)" stroke="#ffb566" stroke-width="0.6"/>
<rect x="455.6" y="352.0" width="40.2" height="14.8" fill="url(#pNet)" stroke="#3f8fd8" stroke-width="1.3"/>
<rect x="467.8" y="353.1" width="15.8" height="12.6" fill="#fff"/>
<text x="475.7" y="362.3" font-size="8" class="b" text-anchor="middle" fill="#222" textLength="12.2" lengthAdjust="spacingAndGlyphs">19.5%</text>
<rect x="496.4" y="351.4" width="1.1" height="16.0" fill="#b2b2b2" stroke="#8e8e8e" stroke-width="0.6"/>
<rect x="286.2" y="372.6" width="128.7" height="16.0" fill="#fb2320" stroke="#ff7a2a" stroke-width="0.6"/>
<rect x="342.6" y="374.3" width="15.8" height="12.6" fill="#fff"/>
<text x="350.5" y="383.5" font-size="8" class="b" text-anchor="middle" fill="#222" textLength="12.2" lengthAdjust="spacingAndGlyphs">60.6%</text>
<rect x="414.9" y="372.6" width="3.0" height="16.0" fill="#3cc832" stroke="#3cc832" stroke-width="0.6"/>
<rect x="417.8" y="372.6" width="54.1" height="16.0" fill="url(#pPaper)" stroke="#ff8a1f" stroke-width="0.6"/>
<rect x="437.0" y="374.3" width="15.8" height="12.6" fill="#fff"/>
<text x="444.9" y="383.5" font-size="8" class="b" text-anchor="middle" fill="#222" textLength="12.2" lengthAdjust="spacingAndGlyphs">25.5%</text>
<rect x="472.0" y="372.6" width="0.6" height="16.0" fill="url(#pMag)" stroke="#ff8a1f" stroke-width="0.6"/>
<rect x="472.6" y="372.6" width="1.5" height="16.0" fill="url(#pBook)" stroke="#ffb566" stroke-width="0.6"/>
<rect x="474.7" y="373.2" width="22.8" height="14.8" fill="url(#pNet)" stroke="#3f8fd8" stroke-width="1.3"/>
<rect x="478.2" y="374.3" width="15.8" height="12.6" fill="#fff"/>
<text x="486.1" y="383.5" font-size="8" class="b" text-anchor="middle" fill="#222" textLength="12.2" lengthAdjust="spacingAndGlyphs">11.3%</text>
<rect x="498.1" y="372.6" width="0.2" height="16.0" fill="#b2b2b2" stroke="#8e8e8e" stroke-width="0.6"/>
<rect x="286.2" y="393.9" width="112.9" height="16.0" fill="#fb2320" stroke="#ff7a2a" stroke-width="0.6"/>
<rect x="334.8" y="395.6" width="15.8" height="12.6" fill="#fff"/>
<text x="342.7" y="404.8" font-size="8" class="b" text-anchor="middle" fill="#222" textLength="12.2" lengthAdjust="spacingAndGlyphs">53.2%</text>
<rect x="399.1" y="393.9" width="2.5" height="16.0" fill="#3cc832" stroke="#3cc832" stroke-width="0.6"/>
<rect x="401.7" y="393.9" width="32.9" height="16.0" fill="url(#pPaper)" stroke="#ff8a1f" stroke-width="0.6"/>
<rect x="410.2" y="395.6" width="15.8" height="12.6" fill="#fff"/>
<text x="418.1" y="404.8" font-size="8" class="b" text-anchor="middle" fill="#222" textLength="12.2" lengthAdjust="spacingAndGlyphs">15.5%</text>
<rect x="434.6" y="393.9" width="0.4" height="16.0" fill="url(#pMag)" stroke="#ff8a1f" stroke-width="0.6"/>
<rect x="435.0" y="393.9" width="2.1" height="16.0" fill="url(#pBook)" stroke="#ffb566" stroke-width="0.6"/>
<rect x="437.7" y="394.5" width="55.5" height="14.8" fill="url(#pNet)" stroke="#3f8fd8" stroke-width="1.3"/>
<rect x="457.6" y="395.6" width="15.8" height="12.6" fill="#fff"/>
<text x="465.5" y="404.8" font-size="8" class="b" text-anchor="middle" fill="#222" textLength="12.2" lengthAdjust="spacingAndGlyphs">26.7%</text>
<rect x="493.8" y="393.9" width="2.3" height="16.0" fill="#b2b2b2" stroke="#8e8e8e" stroke-width="0.6"/>
<rect x="286.2" y="415.1" width="164.3" height="16.0" fill="#fb2320" stroke="#ff7a2a" stroke-width="0.6"/>
<rect x="360.5" y="416.8" width="15.8" height="12.6" fill="#fff"/>
<text x="368.4" y="426.0" font-size="8" class="b" text-anchor="middle" fill="#222" textLength="12.2" lengthAdjust="spacingAndGlyphs">77.4%</text>
<rect x="450.5" y="415.1" width="34.2" height="16.0" fill="url(#pPaper)" stroke="#ff8a1f" stroke-width="0.6"/>
<rect x="459.7" y="416.8" width="15.8" height="12.6" fill="#fff"/>
<text x="467.6" y="426.0" font-size="8" class="b" text-anchor="middle" fill="#222" textLength="12.2" lengthAdjust="spacingAndGlyphs">16.1%</text>
<rect x="484.7" y="415.1" width="6.8" height="16.0" fill="url(#pMag)" stroke="#ff8a1f" stroke-width="0.6"/>
<rect x="491.5" y="415.1" width="7.0" height="16.0" fill="url(#pBook)" stroke="#ffb566" stroke-width="0.6"/>
<text x="286.2" y="445.6" font-size="7.2" class="b" text-anchor="middle" fill="#4a4a4a" textLength="5.8" lengthAdjust="spacingAndGlyphs">0%</text>
<text x="307.4" y="445.6" font-size="7.2" class="b" text-anchor="middle" fill="#4a4a4a" textLength="8.7" lengthAdjust="spacingAndGlyphs">10%</text>
<text x="328.7" y="445.6" font-size="7.2" class="b" text-anchor="middle" fill="#4a4a4a" textLength="8.7" lengthAdjust="spacingAndGlyphs">20%</text>
<text x="349.9" y="445.6" font-size="7.2" class="b" text-anchor="middle" fill="#4a4a4a" textLength="8.7" lengthAdjust="spacingAndGlyphs">30%</text>
<text x="371.1" y="445.6" font-size="7.2" class="b" text-anchor="middle" fill="#4a4a4a" textLength="8.7" lengthAdjust="spacingAndGlyphs">40%</text>
<text x="392.4" y="445.6" font-size="7.2" class="b" text-anchor="middle" fill="#4a4a4a" textLength="8.7" lengthAdjust="spacingAndGlyphs">50%</text>
<text x="413.6" y="445.6" font-size="7.2" class="b" text-anchor="middle" fill="#4a4a4a" textLength="8.7" lengthAdjust="spacingAndGlyphs">60%</text>
<text x="434.8" y="445.6" font-size="7.2" class="b" text-anchor="middle" fill="#4a4a4a" textLength="8.7" lengthAdjust="spacingAndGlyphs">70%</text>
<text x="456.0" y="445.6" font-size="7.2" class="b" text-anchor="middle" fill="#4a4a4a" textLength="8.7" lengthAdjust="spacingAndGlyphs">80%</text>
<text x="477.3" y="445.6" font-size="7.2" class="b" text-anchor="middle" fill="#4a4a4a" textLength="8.7" lengthAdjust="spacingAndGlyphs">90%</text>
<text x="498.5" y="445.6" font-size="7.2" class="b" text-anchor="middle" fill="#4a4a4a" textLength="11.6" lengthAdjust="spacingAndGlyphs">100%</text>
<rect x="511.4" y="222.5" width="232.0" height="210.9" fill="#fff" stroke="#969696" stroke-width="1"/>
<line x1="534.6" y1="222.5" x2="534.6" y2="433.4" stroke="#d4d4d4" stroke-width="0.9"/>
<line x1="557.8" y1="222.5" x2="557.8" y2="433.4" stroke="#d4d4d4" stroke-width="0.9"/>
<line x1="581.0" y1="222.5" x2="581.0" y2="433.4" stroke="#d4d4d4" stroke-width="0.9"/>
<line x1="604.2" y1="222.5" x2="604.2" y2="433.4" stroke="#d4d4d4" stroke-width="0.9"/>
<line x1="627.4" y1="222.5" x2="627.4" y2="433.4" stroke="#d4d4d4" stroke-width="0.9"/>
<line x1="650.6" y1="222.5" x2="650.6" y2="433.4" stroke="#d4d4d4" stroke-width="0.9"/>
<line x1="673.8" y1="222.5" x2="673.8" y2="433.4" stroke="#d4d4d4" stroke-width="0.9"/>
<line x1="697.0" y1="222.5" x2="697.0" y2="433.4" stroke="#d4d4d4" stroke-width="0.9"/>
<line x1="720.2" y1="222.5" x2="720.2" y2="433.4" stroke="#d4d4d4" stroke-width="0.9"/>
<rect x="511.5" y="223.9" width="28.6" height="16.0" fill="#fb2320" stroke="#ff7a2a" stroke-width="0.6"/>
<rect x="517.6" y="225.7" width="16.4" height="12.4" fill="#fff"/>
<text x="525.8" y="234.3" font-size="6.6" class="b" text-anchor="middle" fill="#222" textLength="11.6" lengthAdjust="spacingAndGlyphs">テレビ</text>
<rect x="540.1" y="223.9" width="29.1" height="16.0" fill="#3cc832" stroke="#3cc832" stroke-width="0.6"/>
<rect x="546.5" y="225.7" width="16.4" height="12.4" fill="#fff"/>
<text x="554.7" y="234.3" font-size="6.6" class="b" text-anchor="middle" fill="#222" textLength="11.6" lengthAdjust="spacingAndGlyphs">ラジオ</text>
<rect x="569.2" y="223.9" width="29.3" height="16.0" fill="url(#pPaper)" stroke="#ff8a1f" stroke-width="0.6"/>
<rect x="575.6" y="225.7" width="16.4" height="12.4" fill="#fff"/>
<text x="583.9" y="234.3" font-size="6.6" class="b" text-anchor="middle" fill="#222" textLength="9.4" lengthAdjust="spacingAndGlyphs">新聞</text>
<rect x="598.5" y="223.9" width="29.2" height="16.0" fill="url(#pMag)" stroke="#ff8a1f" stroke-width="0.6"/>
<rect x="604.9" y="225.7" width="16.4" height="12.4" fill="#fff"/>
<text x="613.1" y="234.3" font-size="6.6" class="b" text-anchor="middle" fill="#222" textLength="9.4" lengthAdjust="spacingAndGlyphs">雑誌</text>
<rect x="627.7" y="223.9" width="28.0" height="16.0" fill="url(#pBook)" stroke="#ffb566" stroke-width="0.6"/>
<rect x="633.5" y="225.7" width="16.4" height="12.4" fill="#fff"/>
<text x="641.7" y="234.3" font-size="6.6" class="b" text-anchor="middle" fill="#222" textLength="9.4" lengthAdjust="spacingAndGlyphs">書籍</text>
<rect x="655.7" y="223.9" width="29.9" height="16.0" fill="url(#pNet)" stroke="#3f8fd8" stroke-width="1.3"/>
<rect x="685.6" y="223.9" width="28.9" height="16.0" fill="url(#pOther)" stroke="#999" stroke-width="0.6"/>
<rect x="689.8" y="225.7" width="20.4" height="12.4" fill="#fff"/>
<text x="700.0" y="234.3" font-size="6.6" class="b" text-anchor="middle" fill="#222" textLength="11.6" lengthAdjust="spacingAndGlyphs">その他</text>
<rect x="714.5" y="223.9" width="28.7" height="16.0" fill="#fff" stroke="#ccc" stroke-width="0.6"/>
<rect x="511.4" y="245.2" width="41.1" height="16.0" fill="#fb2320" stroke="#ff7a2a" stroke-width="0.6"/>
<rect x="524.0" y="246.8" width="15.8" height="12.6" fill="#fff"/>
<text x="531.9" y="256.0" font-size="8" class="b" text-anchor="middle" fill="#222" textLength="12.2" lengthAdjust="spacingAndGlyphs">17.7%</text>
<rect x="552.5" y="245.2" width="2.1" height="16.0" fill="#3cc832" stroke="#3cc832" stroke-width="0.6"/>
<rect x="554.6" y="245.2" width="2.1" height="16.0" fill="url(#pPaper)" stroke="#ff8a1f" stroke-width="0.6"/>
<rect x="556.6" y="245.2" width="14.2" height="16.0" fill="url(#pMag)" stroke="#ff8a1f" stroke-width="0.6"/>
<rect x="557.2" y="246.8" width="13.0" height="12.6" fill="#fff" stroke="#ff8a1f" stroke-width="1.1"/>
<text x="563.7" y="256.0" font-size="8" class="b" text-anchor="middle" fill="#222" textLength="9.4" lengthAdjust="spacingAndGlyphs">6.1%</text>
<rect x="570.8" y="245.2" width="3.9" height="16.0" fill="url(#pBook)" stroke="#ffb566" stroke-width="0.6"/>
<rect x="575.3" y="245.8" width="159.3" height="14.8" fill="url(#pNet)" stroke="#3f8fd8" stroke-width="1.3"/>
<rect x="647.1" y="246.8" width="15.8" height="12.6" fill="#fff" stroke="#2a2af0" stroke-width="1.1"/>
<text x="655.0" y="256.0" font-size="8" class="b" text-anchor="middle" fill="#222" textLength="12.2" lengthAdjust="spacingAndGlyphs">69.2%</text>
<rect x="735.3" y="245.2" width="3.2" height="16.0" fill="#b2b2b2" stroke="#8e8e8e" stroke-width="0.6"/>
<rect x="511.4" y="266.4" width="17.9" height="16.0" fill="#fb2320" stroke="#ff7a2a" stroke-width="0.6"/>
<rect x="513.8" y="268.1" width="13.0" height="12.6" fill="#fff"/>
<text x="520.3" y="277.3" font-size="8" class="b" text-anchor="middle" fill="#222" textLength="9.4" lengthAdjust="spacingAndGlyphs">7.7%</text>
<rect x="529.3" y="266.4" width="0.9" height="16.0" fill="#3cc832" stroke="#3cc832" stroke-width="0.6"/>
<rect x="530.2" y="266.4" width="0.9" height="16.0" fill="url(#pPaper)" stroke="#ff8a1f" stroke-width="0.6"/>
<rect x="531.1" y="266.4" width="13.9" height="16.0" fill="url(#pMag)" stroke="#ff8a1f" stroke-width="0.6"/>
<rect x="531.6" y="268.1" width="13.0" height="12.6" fill="#fff" stroke="#ff8a1f" stroke-width="1.1"/>
<text x="538.1" y="277.3" font-size="8" class="b" text-anchor="middle" fill="#222" textLength="9.4" lengthAdjust="spacingAndGlyphs">6.3%</text>
<rect x="545.6" y="267.0" width="190.0" height="14.8" fill="url(#pNet)" stroke="#3f8fd8" stroke-width="1.3"/>
<rect x="632.7" y="268.1" width="15.8" height="12.6" fill="#fff" stroke="#2a2af0" stroke-width="1.1"/>
<text x="640.6" y="277.3" font-size="8" class="b" text-anchor="middle" fill="#222" textLength="12.2" lengthAdjust="spacingAndGlyphs">82.4%</text>
<rect x="736.2" y="266.4" width="3.2" height="16.0" fill="#b2b2b2" stroke="#8e8e8e" stroke-width="0.6"/>
<rect x="511.4" y="287.6" width="25.1" height="16.0" fill="#fb2320" stroke="#ff7a2a" stroke-width="0.6"/>
<rect x="516.0" y="289.3" width="15.8" height="12.6" fill="#fff"/>
<text x="523.9" y="298.5" font-size="8" class="b" text-anchor="middle" fill="#222" textLength="12.2" lengthAdjust="spacingAndGlyphs">10.8%</text>
<rect x="536.5" y="287.6" width="1.2" height="16.0" fill="url(#pPaper)" stroke="#ff8a1f" stroke-width="0.6"/>
<rect x="537.6" y="287.6" width="3.2" height="16.0" fill="url(#pMag)" stroke="#ff8a1f" stroke-width="0.6"/>
<rect x="540.9" y="287.6" width="2.6" height="16.0" fill="url(#pBook)" stroke="#ffb566" stroke-width="0.6"/>
<rect x="544.0" y="288.2" width="192.8" height="14.8" fill="url(#pNet)" stroke="#3f8fd8" stroke-width="1.3"/>
<rect x="632.5" y="289.3" width="15.8" height="12.6" fill="#fff" stroke="#2a2af0" stroke-width="1.1"/>
<text x="640.4" y="298.5" font-size="8" class="b" text-anchor="middle" fill="#222" textLength="12.2" lengthAdjust="spacingAndGlyphs">83.6%</text>
<rect x="737.4" y="287.6" width="2.1" height="16.0" fill="#b2b2b2" stroke="#8e8e8e" stroke-width="0.6"/>
<rect x="511.4" y="308.9" width="25.1" height="16.0" fill="#fb2320" stroke="#ff7a2a" stroke-width="0.6"/>
<rect x="516.0" y="310.6" width="15.8" height="12.6" fill="#fff"/>
<text x="523.9" y="319.8" font-size="8" class="b" text-anchor="middle" fill="#222" textLength="12.2" lengthAdjust="spacingAndGlyphs">10.8%</text>
<rect x="536.5" y="308.9" width="0.9" height="16.0" fill="#3cc832" stroke="#3cc832" stroke-width="0.6"/>
<rect x="537.4" y="308.9" width="0.9" height="16.0" fill="url(#pPaper)" stroke="#ff8a1f" stroke-width="0.6"/>
<rect x="538.3" y="308.9" width="4.6" height="16.0" fill="url(#pMag)" stroke="#ff8a1f" stroke-width="0.6"/>
<rect x="543.0" y="308.9" width="5.3" height="16.0" fill="url(#pBook)" stroke="#ffb566" stroke-width="0.6"/>
<rect x="548.9" y="309.5" width="189.0" height="14.8" fill="url(#pNet)" stroke="#3f8fd8" stroke-width="1.3"/>
<rect x="635.5" y="310.6" width="15.8" height="12.6" fill="#fff" stroke="#2a2af0" stroke-width="1.1"/>
<text x="643.4" y="319.8" font-size="8" class="b" text-anchor="middle" fill="#222" textLength="12.2" lengthAdjust="spacingAndGlyphs">82.0%</text>
<rect x="738.5" y="308.9" width="2.1" height="16.0" fill="#b2b2b2" stroke="#8e8e8e" stroke-width="0.6"/>
<rect x="511.4" y="330.1" width="32.7" height="16.0" fill="#fb2320" stroke="#ff7a2a" stroke-width="0.6"/>
<rect x="519.9" y="331.8" width="15.8" height="12.6" fill="#fff"/>
<text x="527.8" y="341.0" font-size="8" class="b" text-anchor="middle" fill="#222" textLength="12.2" lengthAdjust="spacingAndGlyphs">14.1%</text>
<rect x="544.1" y="330.1" width="0.7" height="16.0" fill="#3cc832" stroke="#3cc832" stroke-width="0.6"/>
<rect x="544.8" y="330.1" width="0.9" height="16.0" fill="url(#pPaper)" stroke="#ff8a1f" stroke-width="0.6"/>
<rect x="545.7" y="330.1" width="8.6" height="16.0" fill="url(#pMag)" stroke="#ff8a1f" stroke-width="0.6"/>
<rect x="554.3" y="330.1" width="4.6" height="16.0" fill="url(#pBook)" stroke="#ffb566" stroke-width="0.6"/>
<rect x="559.6" y="330.8" width="176.7" height="14.8" fill="url(#pNet)" stroke="#3f8fd8" stroke-width="1.3"/>
<rect x="640.0" y="331.8" width="15.8" height="12.6" fill="#fff" stroke="#2a2af0" stroke-width="1.1"/>
<text x="647.9" y="341.0" font-size="8" class="b" text-anchor="middle" fill="#222" textLength="12.2" lengthAdjust="spacingAndGlyphs">76.7%</text>
<rect x="736.9" y="330.1" width="2.1" height="16.0" fill="#b2b2b2" stroke="#8e8e8e" stroke-width="0.6"/>
<rect x="511.4" y="351.4" width="55.0" height="16.0" fill="#fb2320" stroke="#ff7a2a" stroke-width="0.6"/>
<rect x="531.0" y="353.1" width="15.8" height="12.6" fill="#fff"/>
<text x="538.9" y="362.3" font-size="8" class="b" text-anchor="middle" fill="#222" textLength="12.2" lengthAdjust="spacingAndGlyphs">23.7%</text>
<rect x="566.4" y="351.4" width="1.6" height="16.0" fill="#3cc832" stroke="#3cc832" stroke-width="0.6"/>
<rect x="568.0" y="351.4" width="1.6" height="16.0" fill="url(#pPaper)" stroke="#ff8a1f" stroke-width="0.6"/>
<rect x="569.6" y="351.4" width="15.3" height="16.0" fill="url(#pMag)" stroke="#ff8a1f" stroke-width="0.6"/>
<rect x="570.8" y="353.1" width="13.0" height="12.6" fill="#fff" stroke="#ff8a1f" stroke-width="1.1"/>
<text x="577.3" y="362.3" font-size="8" class="b" text-anchor="middle" fill="#222" textLength="9.4" lengthAdjust="spacingAndGlyphs">6.6%</text>
<rect x="584.9" y="351.4" width="6.0" height="16.0" fill="url(#pBook)" stroke="#ffb566" stroke-width="0.6"/>
<rect x="591.6" y="352.0" width="144.3" height="14.8" fill="url(#pNet)" stroke="#3f8fd8" stroke-width="1.3"/>
<rect x="655.8" y="353.1" width="15.8" height="12.6" fill="#fff" stroke="#2a2af0" stroke-width="1.1"/>
<text x="663.7" y="362.3" font-size="8" class="b" text-anchor="middle" fill="#222" textLength="12.2" lengthAdjust="spacingAndGlyphs">62.7%</text>
<rect x="736.4" y="351.4" width="2.3" height="16.0" fill="#b2b2b2" stroke="#8e8e8e" stroke-width="0.6"/>
<rect x="511.4" y="372.6" width="74.9" height="16.0" fill="#fb2320" stroke="#ff7a2a" stroke-width="0.6"/>
<rect x="541.0" y="374.3" width="15.8" height="12.6" fill="#fff"/>
<text x="548.9" y="383.5" font-size="8" class="b" text-anchor="middle" fill="#222" textLength="12.2" lengthAdjust="spacingAndGlyphs">32.3%</text>
<rect x="586.3" y="372.6" width="1.6" height="16.0" fill="#3cc832" stroke="#3cc832" stroke-width="0.6"/>
<rect x="588.0" y="372.6" width="8.8" height="16.0" fill="url(#pPaper)" stroke="#ff8a1f" stroke-width="0.6"/>
<rect x="596.8" y="372.6" width="33.2" height="16.0" fill="url(#pMag)" stroke="#ff8a1f" stroke-width="0.6"/>
<rect x="605.5" y="374.3" width="15.8" height="12.6" fill="#fff"/>
<text x="613.4" y="383.5" font-size="8" class="b" text-anchor="middle" fill="#222" textLength="12.2" lengthAdjust="spacingAndGlyphs">13.8%</text>
<rect x="630.0" y="372.6" width="8.4" height="16.0" fill="url(#pBook)" stroke="#ffb566" stroke-width="0.6"/>
<rect x="638.9" y="373.2" width="89.3" height="14.8" fill="url(#pNet)" stroke="#3f8fd8" stroke-width="1.3"/>
<rect x="675.6" y="374.3" width="15.8" height="12.6" fill="#fff" stroke="#2a2af0" stroke-width="1.1"/>
<text x="683.5" y="383.5" font-size="8" class="b" text-anchor="middle" fill="#222" textLength="12.2" lengthAdjust="spacingAndGlyphs">39.0%</text>
<rect x="728.8" y="372.6" width="5.8" height="16.0" fill="#b2b2b2" stroke="#8e8e8e" stroke-width="0.6"/>
<rect x="511.4" y="393.9" width="39.2" height="16.0" fill="#fb2320" stroke="#ff7a2a" stroke-width="0.6"/>
<rect x="523.1" y="395.6" width="15.8" height="12.6" fill="#fff"/>
<text x="531.0" y="404.8" font-size="8" class="b" text-anchor="middle" fill="#222" textLength="12.2" lengthAdjust="spacingAndGlyphs">16.9%</text>
<rect x="550.6" y="393.9" width="1.9" height="16.0" fill="#3cc832" stroke="#3cc832" stroke-width="0.6"/>
<rect x="552.5" y="393.9" width="1.6" height="16.0" fill="url(#pPaper)" stroke="#ff8a1f" stroke-width="0.6"/>
<rect x="554.1" y="393.9" width="13.2" height="16.0" fill="url(#pMag)" stroke="#ff8a1f" stroke-width="0.6"/>
<rect x="554.2" y="395.6" width="13.0" height="12.6" fill="#fff" stroke="#ff8a1f" stroke-width="1.1"/>
<text x="560.7" y="404.8" font-size="8" class="b" text-anchor="middle" fill="#222" textLength="9.4" lengthAdjust="spacingAndGlyphs">5.7%</text>
<rect x="567.3" y="393.9" width="4.6" height="16.0" fill="url(#pBook)" stroke="#ffb566" stroke-width="0.6"/>
<rect x="572.6" y="394.5" width="162.6" height="14.8" fill="url(#pNet)" stroke="#3f8fd8" stroke-width="1.3"/>
<rect x="645.9" y="395.6" width="15.8" height="12.6" fill="#fff" stroke="#2a2af0" stroke-width="1.1"/>
<text x="653.8" y="404.8" font-size="8" class="b" text-anchor="middle" fill="#222" textLength="12.2" lengthAdjust="spacingAndGlyphs">70.6%</text>
<rect x="735.7" y="393.9" width="2.8" height="16.0" fill="#b2b2b2" stroke="#8e8e8e" stroke-width="0.6"/>
<rect x="511.4" y="415.1" width="134.8" height="16.0" fill="#fb2320" stroke="#ff7a2a" stroke-width="0.6"/>
<rect x="570.9" y="416.8" width="15.8" height="12.6" fill="#fff"/>
<text x="578.8" y="426.0" font-size="8" class="b" text-anchor="middle" fill="#222" textLength="12.2" lengthAdjust="spacingAndGlyphs">58.1%</text>
<rect x="646.2" y="415.1" width="7.4" height="16.0" fill="#3cc832" stroke="#3cc832" stroke-width="0.6"/>
<rect x="653.6" y="415.1" width="7.4" height="16.0" fill="url(#pPaper)" stroke="#ff8a1f" stroke-width="0.6"/>
<rect x="661.0" y="415.1" width="52.4" height="16.0" fill="url(#pMag)" stroke="#ff8a1f" stroke-width="0.6"/>
<rect x="679.4" y="416.8" width="15.8" height="12.6" fill="#fff"/>
<text x="687.3" y="426.0" font-size="8" class="b" text-anchor="middle" fill="#222" textLength="12.2" lengthAdjust="spacingAndGlyphs">22.6%</text>
<rect x="713.5" y="415.1" width="15.1" height="16.0" fill="#b2b2b2" stroke="#8e8e8e" stroke-width="0.6"/>
<rect x="714.5" y="416.8" width="13.0" height="12.6" fill="#fff" stroke="#999" stroke-width="1.1"/>
<text x="721.0" y="426.0" font-size="8" class="b" text-anchor="middle" fill="#222" textLength="9.4" lengthAdjust="spacingAndGlyphs">6.5%</text>
<rect x="729.6" y="416.8" width="13.0" height="12.6" fill="#fff"/>
<text x="736.1" y="426.0" font-size="8" class="b" text-anchor="middle" fill="#222" textLength="9.4" lengthAdjust="spacingAndGlyphs">6.5%</text>
<text x="511.4" y="445.6" font-size="7.2" class="b" text-anchor="middle" fill="#4a4a4a" textLength="5.8" lengthAdjust="spacingAndGlyphs">0%</text>
<text x="534.6" y="445.6" font-size="7.2" class="b" text-anchor="middle" fill="#4a4a4a" textLength="8.7" lengthAdjust="spacingAndGlyphs">10%</text>
<text x="557.8" y="445.6" font-size="7.2" class="b" text-anchor="middle" fill="#4a4a4a" textLength="8.7" lengthAdjust="spacingAndGlyphs">20%</text>
<text x="581.0" y="445.6" font-size="7.2" class="b" text-anchor="middle" fill="#4a4a4a" textLength="8.7" lengthAdjust="spacingAndGlyphs">30%</text>
<text x="604.2" y="445.6" font-size="7.2" class="b" text-anchor="middle" fill="#4a4a4a" textLength="8.7" lengthAdjust="spacingAndGlyphs">40%</text>
<text x="627.4" y="445.6" font-size="7.2" class="b" text-anchor="middle" fill="#4a4a4a" textLength="8.7" lengthAdjust="spacingAndGlyphs">50%</text>
<text x="650.6" y="445.6" font-size="7.2" class="b" text-anchor="middle" fill="#4a4a4a" textLength="8.7" lengthAdjust="spacingAndGlyphs">60%</text>
<text x="673.8" y="445.6" font-size="7.2" class="b" text-anchor="middle" fill="#4a4a4a" textLength="8.7" lengthAdjust="spacingAndGlyphs">70%</text>
<text x="697.0" y="445.6" font-size="7.2" class="b" text-anchor="middle" fill="#4a4a4a" textLength="8.7" lengthAdjust="spacingAndGlyphs">80%</text>
<text x="720.2" y="445.6" font-size="7.2" class="b" text-anchor="middle" fill="#4a4a4a" textLength="8.7" lengthAdjust="spacingAndGlyphs">90%</text>
<text x="743.4" y="445.6" font-size="7.2" class="b" text-anchor="middle" fill="#4a4a4a" textLength="11.6" lengthAdjust="spacingAndGlyphs">100%</text>
<rect x="655.9" y="210.2" width="30.2" height="11.6" fill="#fff" stroke="#2a2af0" stroke-width="1.1"/>
<text x="671" y="218.4" font-size="6" class="b" text-anchor="middle" fill="#222" textLength="26" lengthAdjust="spacingAndGlyphs">インターネット</text>
<path d="M683 221.8 L684.5 226" stroke="#2a2af0" stroke-width="0.9"/>
<rect x="694.6" y="210.6" width="54" height="11.4" fill="#fff" stroke="#b0b0b0" stroke-width="0.9"/>
<text x="697.4" y="218.8" font-size="5.8" class="b" fill="#222" textLength="48.6" lengthAdjust="spacingAndGlyphs">その種の情報は必要ない</text>
<path d="M746 222 L741.5 229.5" stroke="#b0b0b0" stroke-width="0.9" fill="none"/>
<text x="87.3" y="496.6" font-size="8.4" class="b" textLength="30.2" lengthAdjust="spacingAndGlyphs" fill="#222">(凡例)</text>
<rect x="124.7" y="484.0" width="63.0" height="17.2" fill="url(#pTVd)" stroke="#ff7a2a" stroke-width="0.7"/>
<rect x="140.4" y="485.6" width="31.5" height="14.0" fill="#fff"/>
<text x="144.2" y="495.9" font-size="8.2" class="b" fill="#222" textLength="24.0" lengthAdjust="spacingAndGlyphs">テレビ</text>
<rect x="187.7" y="484.0" width="63.0" height="17.2" fill="url(#pRadd)" stroke="#3cc832" stroke-width="0.7"/>
<rect x="203.4" y="485.6" width="31.5" height="14.0" fill="#fff"/>
<text x="207.2" y="495.9" font-size="8.2" class="b" fill="#222" textLength="24.0" lengthAdjust="spacingAndGlyphs">ラジオ</text>
<rect x="250.7" y="484.0" width="63.0" height="17.2" fill="url(#pPaperL)" stroke="#ff8a1f" stroke-width="0.7"/>
<rect x="268.9" y="485.6" width="26.5" height="14.0" fill="#fff"/>
<text x="274.2" y="495.9" font-size="8.2" class="b" fill="#222" textLength="16.0" lengthAdjust="spacingAndGlyphs">新聞</text>
<rect x="313.7" y="484.0" width="63.0" height="17.2" fill="url(#pMagL)" stroke="#ff8a1f" stroke-width="0.7"/>
<rect x="331.9" y="485.6" width="26.5" height="14.0" fill="#fff"/>
<text x="337.2" y="495.9" font-size="8.2" class="b" fill="#222" textLength="16.0" lengthAdjust="spacingAndGlyphs">雑誌</text>
<rect x="376.7" y="484.0" width="63.0" height="17.2" fill="url(#pBookL)" stroke="#ffb566" stroke-width="0.7"/>
<rect x="394.9" y="485.6" width="26.5" height="14.0" fill="#fff"/>
<text x="400.2" y="495.9" font-size="8.2" class="b" fill="#222" textLength="16.0" lengthAdjust="spacingAndGlyphs">書籍</text>
<rect x="439.7" y="484.0" width="63.0" height="17.2" fill="url(#pNet)" stroke="#3f8fd8" stroke-width="1.3"/>
<rect x="502.7" y="484.0" width="63.0" height="17.2" fill="url(#pOther)" stroke="#999" stroke-width="0.7"/>
<rect x="517.0" y="485.6" width="34.5" height="14.0" fill="#fff"/>
<text x="522.2" y="495.9" font-size="8.2" class="b" fill="#222" textLength="24.0" lengthAdjust="spacingAndGlyphs">その他</text>
<rect x="565.7" y="484.0" width="63.0" height="17.2" fill="#fff" stroke="#bbb" stroke-width="0.7"/>
<rect x="441.2" y="474.4" width="57.6" height="14.2" fill="#fff" stroke="#2a2af0" stroke-width="1.1"/>
<text x="444.6" y="484.6" font-size="8.2" class="b" fill="#222" textLength="51" lengthAdjust="spacingAndGlyphs">インターネット</text>
<path d="M490 488.6 L486.5 493" stroke="#2a2af0" stroke-width="0.9" fill="none"/>
<rect x="554.2" y="467.8" width="89.4" height="13.8" fill="#fff" stroke="#b0b0b0" stroke-width="0.9"/>
<text x="558" y="477.8" font-size="7.6" class="b" fill="#222" textLength="82" lengthAdjust="spacingAndGlyphs">その種の情報は必要ない</text>
<path d="M629 481.6 L625.5 486" stroke="#b0b0b0" stroke-width="0.9" fill="none"/>
<text x="580.4" y="519.8" font-size="16" font-weight="300" fill="#c2c2c2" textLength="178" lengthAdjust="spacingAndGlyphs">Windows のライセンス認証</text>
</svg></body></html>
